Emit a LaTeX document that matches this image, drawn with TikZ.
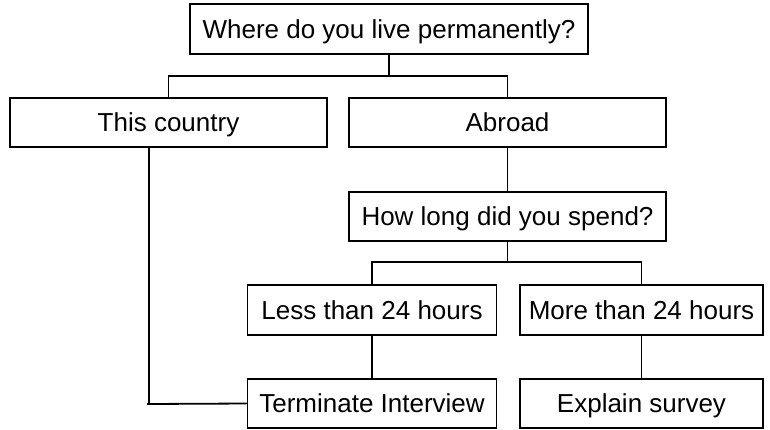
\documentclass[tikz,border=0pt]{standalone}
\usepackage{fontspec}
\setmainfont{Liberation Sans}
\begin{document}
\begin{tikzpicture}[x=1pt,y=-1pt,
  box/.style={draw, line width=1.8pt, inner sep=0pt, font=\fontsize{26}{30}\selectfont, text height=18.6pt, text depth=0pt, anchor=center},
  conn/.style={line width=1.8pt}]
\useasboundingbox (0,0) rectangle (770,429);
\node[box, minimum width=398pt, minimum height=50pt] (q1) at (389,29) {Where do you live permanently?};
\node[box, minimum width=317pt, minimum height=49pt] (tc) at (168.5,122.5) {This country};
\node[box, minimum width=317pt, minimum height=49pt] (ab) at (507.5,122.5) {Abroad};
\node[box, minimum width=317pt, minimum height=49pt] (hl) at (507.5,216.5) {How long did you spend?};
\node[box, minimum width=249pt, minimum height=50pt] (ls) at (372,310) {Less than 24 hours};
\node[box, minimum width=243pt, minimum height=50pt] (mr) at (641.5,310) {More than 24 hours};
\node[box, minimum width=249pt, minimum height=49pt] (ti) at (372,403.5) {Terminate Interview};
\node[box, minimum width=243pt, minimum height=49pt] (es) at (641.5,403.5) {Explain survey};
\coordinate (j1) at (389,76);
\coordinate (j2) at (507.5,262);
\coordinate (stub) at (147,404);
\draw[conn] (q1.south) -- (j1);
\draw[conn] (tc.north) |- (j1) -| (ab.north);
\draw[conn] (ab.south) -- (hl.north);
\draw[conn] (hl.south) -- (j2);
\draw[conn] (ls.north) |- (j2) -| (mr.north);
\draw[conn] (ls.south) -- (ti.north);
\draw[conn] (mr.south) -- (es.north);
\draw[conn] ([xshift=-19.5pt]tc.south) |- (ti.west);
\draw[conn] (stub) -- (ti.west);
\end{tikzpicture}
\end{document}
